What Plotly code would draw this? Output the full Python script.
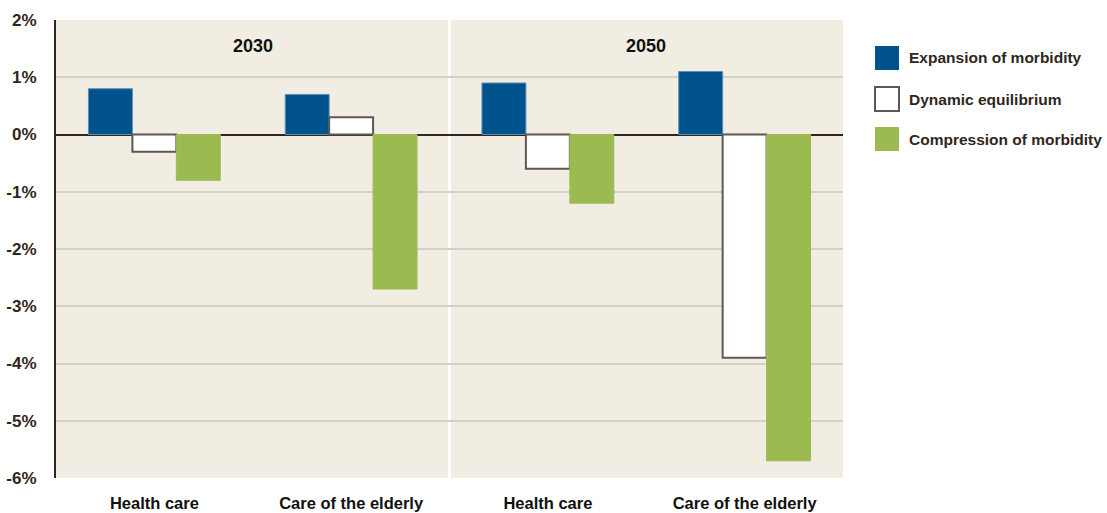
import plotly.graph_objects as go

# Category positions along the x axis (two periods, two sectors each)
categories = ["Health care", "Care of the elderly", "Health care", "Care of the elderly"]
periods = ["2030", "2050"]

# Projected change in expenditure (%)
expansion = [0.8, 0.7, 0.9, 1.1]
dynamic = [-0.3, 0.3, -0.6, -3.9]
compression = [-0.8, -2.7, -1.2, -5.7]

series_names = ["Expansion of morbidity", "Dynamic equilibrium", "Compression of morbidity"]
y_ticks = [2, 1, 0, -1, -2, -3, -4, -5, -6]
y_tick_text = [f"{v}%" for v in y_ticks]

BLUE = "#00528c"
GREEN = "#9bbb51"
WHITE = "#ffffff"
EDGE = "#5c5853"
INK = "#2f2620"
BG = "#f1ede2"
GRID = "#d3d0c8"
FONT = "Liberation Sans"

x = list(range(len(categories)))

fig = go.Figure()
fig.add_trace(go.Bar(x=x, y=expansion, name=series_names[0],
                     marker=dict(color=BLUE, line=dict(color="#5f8fb8", width=1))))
fig.add_trace(go.Bar(x=x, y=dynamic, name=series_names[1],
                     marker=dict(color=WHITE, line=dict(color=EDGE, width=2))))
fig.add_trace(go.Bar(x=x, y=compression, name=series_names[2],
                     marker=dict(color=GREEN, line=dict(color=GREEN, width=1))))

# White divider between the two periods
fig.add_shape(type="line", xref="x", yref="paper", x0=1.5, x1=1.5, y0=0, y1=1,
              line=dict(color="white", width=3), layer="below")

# Period headings
for i, p in enumerate(periods):
    fig.add_annotation(x=0.5 + 2 * i, y=1.55, xref="x", yref="y", text=f"<b>{p}</b>",
                       showarrow=False, font=dict(family=FONT, size=18, color="#111111"))

# Legend drawn as swatches plus labels to the right of the plot
legend_colors = [(BLUE, BLUE, 0), (WHITE, EDGE, 2), (GREEN, GREEN, 0)]
legend_y = [58, 99, 139]
W, H = 1107, 513
for (fill, edge, lw), name, yc in zip(legend_colors, series_names, legend_y):
    fig.add_shape(type="rect", xref="paper", yref="paper",
                  x0=(875 - 56) / 787, x1=(899 - 56) / 787,
                  y0=(478 - (yc + 12)) / 458, y1=(478 - (yc - 12)) / 458,
                  fillcolor=fill, line=dict(color=edge, width=lw))
    fig.add_annotation(xref="paper", yref="paper", x=(907 - 56) / 787, y=(478 - yc) / 458,
                       text=f"<b>{name}</b>", showarrow=False, xanchor="left", yanchor="middle",
                       font=dict(family=FONT, size=15.5, color=INK))

fig.update_layout(
    width=W, height=H,
    margin=dict(l=56, r=264, t=20, b=35),
    paper_bgcolor="white",
    plot_bgcolor=BG,
    barmode="group",
    bargap=0.33,
    bargroupgap=0,
    showlegend=False,
    font=dict(family=FONT, color=INK),
)
fig.update_xaxes(
    range=[-0.5, 3.5], tickvals=x, ticktext=[f"<b>{c}</b>" for c in categories],
    tickfont=dict(family=FONT, size=16.5, color="#111111"),
    showgrid=False, zeroline=False, showline=False, ticks="", ticklabelstandoff=13,
    fixedrange=True, automargin=False,
)
fig.update_yaxes(
    range=[-6, 2], tickvals=y_ticks, ticktext=[f"<b>{t}</b>" for t in y_tick_text],
    tickfont=dict(family=FONT, size=17, color=INK),
    showgrid=True, gridcolor=GRID, gridwidth=2,
    zeroline=True, zerolinecolor=INK, zerolinewidth=2,
    showline=True, linecolor=INK, linewidth=2,
    ticks="", ticklabelstandoff=14, fixedrange=True, automargin=False,
)

fig.write_html("out.html")
